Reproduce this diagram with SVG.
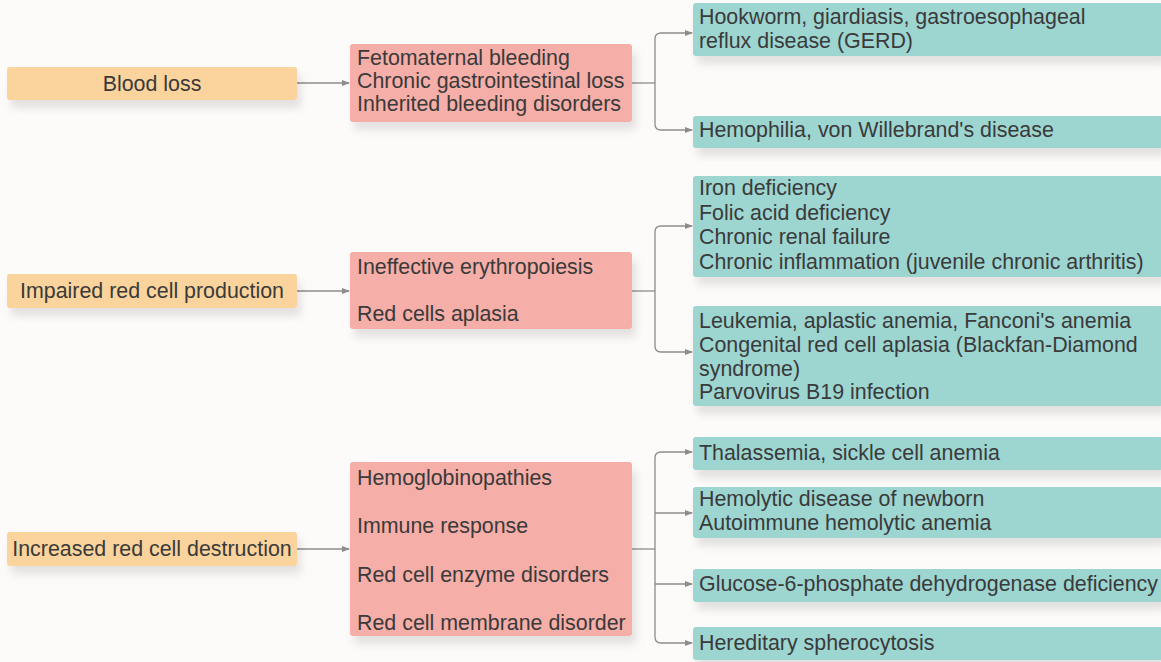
<svg xmlns="http://www.w3.org/2000/svg" width="1161" height="662" viewBox="0 0 1161 662">
<style>
text{font-family:"Liberation Sans",Arial,sans-serif;font-size:21.4px;fill:#3a3a3a}
.o{fill:#fbd49d}
.p{fill:#f5aea8}
.t{fill:#9dd5d1}
.c{fill:none;stroke:#8c8c8c;stroke-width:1.3}
.box{filter:url(#sh)}
</style>
<defs>
<filter id="sh" x="-5%" y="-20%" width="110%" height="160%">
<feDropShadow dx="4" dy="8" stdDeviation="4" flood-color="#000" flood-opacity="0.10"/>
</filter>
<marker id="ah" viewBox="0 0 8 8" refX="7" refY="4" markerWidth="8" markerHeight="8" markerUnits="userSpaceOnUse" orient="auto">
<path d="M0,1 L8,4 L0,7 Z" fill="#8c8c8c"/>
</marker>
</defs>
<rect width="1161" height="662" fill="#fcfbfa"/>

<g id="connectors">
<path class="c" d="M297,83 H349" marker-end="url(#ah)"/>
<path class="c" d="M632,83 H655"/>
<path class="c" d="M655,83 V39 Q655,33 661,33 H692" marker-end="url(#ah)"/>
<path class="c" d="M655,83 V124 Q655,130 661,130 H692" marker-end="url(#ah)"/>

<path class="c" d="M297,291 H349" marker-end="url(#ah)"/>
<path class="c" d="M632,291 H655"/>
<path class="c" d="M655,291 V232 Q655,226 661,226 H692" marker-end="url(#ah)"/>
<path class="c" d="M655,291 V346 Q655,352 661,352 H692" marker-end="url(#ah)"/>

<path class="c" d="M297,549 H349" marker-end="url(#ah)"/>
<path class="c" d="M632,549 H655"/>
<path class="c" d="M655,549 V458 Q655,452 661,452 H692" marker-end="url(#ah)"/>
<path class="c" d="M655,513 H692" marker-end="url(#ah)"/>
<path class="c" d="M655,584 H692" marker-end="url(#ah)"/>
<path class="c" d="M655,549 V637 Q655,643 661,643 H692" marker-end="url(#ah)"/>
</g>

<g id="blood-loss"><rect class="o box" x="7" y="67" width="290" height="33" rx="3"/><text x="152" y="91" text-anchor="middle">Blood loss</text></g>
<g id="impaired"><rect class="o box" x="7" y="274" width="290" height="34" rx="3"/><text x="152" y="298" text-anchor="middle">Impaired red cell production</text></g>
<g id="increased"><rect class="o box" x="7" y="532" width="290" height="34" rx="3"/><text x="152" y="556" text-anchor="middle">Increased red cell destruction</text></g>

<g id="bleeding-causes"><rect class="p box" x="350" y="44" width="282" height="78" rx="3"/>
<text x="357" y="65">Fetomaternal bleeding</text>
<text x="357" y="88">Chronic gastrointestinal loss</text>
<text x="357" y="111">Inherited bleeding disorders</text></g>
<g id="production-causes"><rect class="p box" x="350" y="252" width="282" height="77" rx="3"/>
<text x="357" y="274">Ineffective erythropoiesis</text>
<text x="357" y="321">Red cells aplasia</text></g>
<g id="destruction-causes"><rect class="p box" x="350" y="462" width="282" height="174" rx="3"/>
<text x="357" y="485">Hemoglobinopathies</text>
<text x="357" y="533">Immune response</text>
<text x="357" y="582">Red cell enzyme disorders</text>
<text x="357" y="630">Red cell membrane disorder</text></g>

<g id="hookworm"><rect class="t box" x="693" y="3" width="470" height="53" rx="3"/>
<text x="699" y="24">Hookworm, giardiasis, gastroesophageal</text>
<text x="699" y="48">reflux disease (GERD)</text></g>
<g id="hemophilia"><rect class="t box" x="693" y="116" width="470" height="32" rx="3"/>
<text x="699" y="137">Hemophilia, von Willebrand's disease</text></g>
<g id="deficiency"><rect class="t box" x="693" y="176" width="470" height="101" rx="3"/>
<text x="699" y="195">Iron deficiency</text>
<text x="699" y="220">Folic acid deficiency</text>
<text x="699" y="244">Chronic renal failure</text>
<text x="699" y="269">Chronic inflammation (juvenile chronic arthritis)</text></g>
<g id="aplasia"><rect class="t box" x="693" y="306" width="470" height="100" rx="3"/>
<text x="699" y="328">Leukemia, aplastic anemia, Fanconi's anemia</text>
<text x="699" y="352">Congenital red cell aplasia (Blackfan-Diamond</text>
<text x="699" y="376">syndrome)</text>
<text x="699" y="399">Parvovirus B19 infection</text></g>
<g id="thalassemia"><rect class="t box" x="693" y="437" width="470" height="33" rx="3"/>
<text x="699" y="460">Thalassemia, sickle cell anemia</text></g>
<g id="hemolytic"><rect class="t box" x="693" y="487" width="470" height="51" rx="3"/>
<text x="699" y="506">Hemolytic disease of newborn</text>
<text x="699" y="530">Autoimmune hemolytic anemia</text></g>
<g id="g6pd"><rect class="t box" x="693" y="569" width="470" height="33" rx="3"/>
<text x="699" y="591">Glucose-6-phosphate dehydrogenase deficiency</text></g>
<g id="spherocytosis"><rect class="t box" x="693" y="627" width="470" height="33" rx="3"/>
<text x="699" y="650">Hereditary spherocytosis</text></g>
</svg>
